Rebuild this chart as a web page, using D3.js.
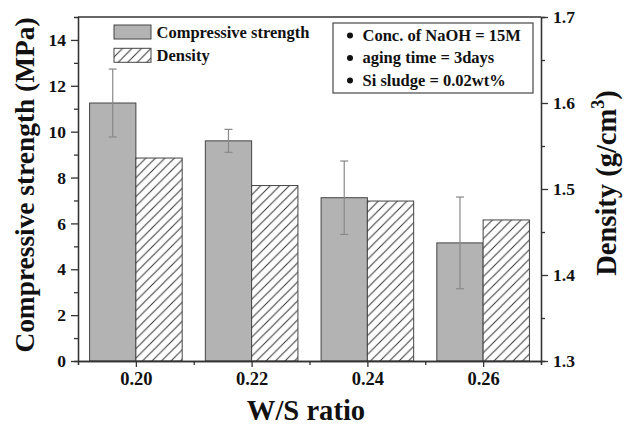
<!DOCTYPE html>
<html>
<head>
<meta charset="utf-8">
<script src="https://cdn.jsdelivr.net/npm/d3@7"></script>
</head>
<body style="margin:0;background:#fff">
<svg id="chart" width="631" height="425"></svg>
<script>
// W/S ratio vs compressive strength and density
const ratios = [0.20, 0.22, 0.24, 0.26];
const strength = [11.25, 9.6, 7.12, 5.15];
const strengthErr = [1.48, 0.5, 1.6, 2.0];
const density = [1.536, 1.504, 1.486, 1.464];
const xTicks = ["0.20", "0.22", "0.24", "0.26"];
const notes = ["Conc. of NaOH = 15M", "aging time = 3days", "Si sludge = 0.02wt%"];

const width = 631, height = 425;
const m = { left: 78, right: 90, top: 17, bottom: 64 };

const svg = d3.select("#chart");

// serif bold text helper
const setFont = (sel, size) => sel
  .attr("font-family", "Liberation Serif")
  .style("font-family", '"Liberation Serif"')
  .style("font-weight", "bold")
  .style("font-size", size + "px")
  .attr("fill", "#111");

const defs = svg.append("defs");
const pat = defs.append("pattern").attr("id", "hatch")
  .attr("patternUnits", "userSpaceOnUse")
  .attr("width", 9.5).attr("height", 9.5);
pat.append("rect").attr("width", 9.5).attr("height", 9.5).attr("fill", "#fff");
pat.append("path").attr("d", "M-1,1 l2,-2 M0,9.5 l9.5,-9.5 M8.5,10.5 l2,-2")
  .attr("stroke", "#333").attr("stroke-width", 1);

const x = d3.scaleLinear().domain([0.19, 0.27]).range([m.left, width - m.right]);
const y = d3.scaleLinear().domain([0, 15]).range([height - m.bottom, m.top]);
const y2 = d3.scaleLinear().domain([1.3, 1.7]).range([height - m.bottom, m.top]);
const bw = 0.008;
const axisCol = "#333";

// bars
const g = svg.append("g");
g.selectAll("rect.cs").data(ratios).join("rect").attr("class", "cs")
  .attr("x", d => x(d - bw)).attr("width", d => x(d) - x(d - bw))
  .attr("y", (d, i) => y(strength[i])).attr("height", (d, i) => y(0) - y(strength[i]))
  .attr("fill", "#b3b3b3").attr("stroke", "#444").attr("stroke-width", 1);

g.selectAll("rect.den").data(ratios).join("rect").attr("class", "den")
  .attr("x", d => x(d)).attr("width", d => x(d + bw) - x(d))
  .attr("y", (d, i) => y2(density[i])).attr("height", (d, i) => y2(1.3) - y2(density[i]))
  .attr("fill", "url(#hatch)").attr("stroke", "#444").attr("stroke-width", 1);

// error bars
const eb = g.selectAll("g.err").data(ratios).join("g").attr("class", "err")
  .attr("stroke", "#888").attr("stroke-width", 1.2);
eb.append("line")
  .attr("x1", d => x(d - bw / 2)).attr("x2", d => x(d - bw / 2))
  .attr("y1", (d, i) => y(strength[i] + strengthErr[i]))
  .attr("y2", (d, i) => y(strength[i] - strengthErr[i]));
[1, -1].forEach(s => {
  eb.append("line")
    .attr("x1", d => x(d - bw / 2) - 4).attr("x2", d => x(d - bw / 2) + 4)
    .attr("y1", (d, i) => y(strength[i] + s * strengthErr[i]))
    .attr("y2", (d, i) => y(strength[i] + s * strengthErr[i]));
});

// axes
function styleAxis(sel, size) {
  sel.attr("font-family", "Liberation Serif");
  sel.select(".domain").attr("stroke", axisCol).attr("stroke-width", 1.3);
  sel.selectAll(".tick line").attr("stroke", axisCol).attr("stroke-width", 1.3);
  setFont(sel.selectAll("text"), size || 17.5);
}

const xMinor = svg.append("g").attr("transform", `translate(0,${y(0)})`)
  .call(d3.axisBottom(x).tickValues([0.19, 0.21, 0.23, 0.25, 0.27]).tickSize(4).tickFormat(""));
styleAxis(xMinor);
const xAx = svg.append("g").attr("transform", `translate(0,${y(0)})`)
  .call(d3.axisBottom(x).tickValues(ratios).tickSize(6).tickSizeOuter(0)
    .tickFormat((d, i) => xTicks[i]).tickPadding(5));
styleAxis(xAx, 18.5);

const yMinor = svg.append("g").attr("transform", `translate(${m.left},0)`)
  .call(d3.axisLeft(y).tickValues(d3.range(1, 15, 2)).tickSize(4).tickFormat(""));
styleAxis(yMinor);
const yAx = svg.append("g").attr("transform", `translate(${m.left},0)`)
  .call(d3.axisLeft(y).tickValues(d3.range(0, 15, 2)).tickSize(7).tickSizeOuter(0).tickPadding(5));
styleAxis(yAx);

const y2Minor = svg.append("g").attr("transform", `translate(${width - m.right},0)`)
  .call(d3.axisRight(y2).tickValues([1.35, 1.45, 1.55, 1.65]).tickSize(4).tickFormat(""));
styleAxis(y2Minor);
const y2Ax = svg.append("g").attr("transform", `translate(${width - m.right},0)`)
  .call(d3.axisRight(y2).tickValues([1.3, 1.4, 1.5, 1.6, 1.7]).tickSize(7).tickSizeOuter(0)
    .tickFormat(d3.format(".1f")).tickPadding(5));
styleAxis(y2Ax);

// top frame
svg.append("line").attr("x1", m.left).attr("x2", width - m.right)
  .attr("y1", m.top).attr("y2", m.top).attr("stroke", axisCol).attr("stroke-width", 1.3);

// axis titles
setFont(svg.append("text"), 28.6).attr("x", 306).attr("y", 420)
  .attr("text-anchor", "middle").text("W/S ratio");
setFont(svg.append("text"), 27.4).attr("transform", "translate(34,185) rotate(-90)")
  .attr("text-anchor", "middle").text("Compressive strength (MPa)");
const dt = setFont(svg.append("text"), 28.5)
  .attr("transform", "translate(616,183) rotate(-90)")
  .attr("text-anchor", "middle");
dt.append("tspan").text("Density (g/cm");
dt.append("tspan").style("font-size", "18px").attr("dy", -12).text("3");
dt.append("tspan").attr("dy", 12).text(")");

// legend
const legItems = [
  { label: "Compressive strength", fill: "#b3b3b3", y: 25 },
  { label: "Density", fill: "url(#hatch)", y: 48.3 }
];
legItems.forEach(it => {
  svg.append("rect").attr("x", 114).attr("y", it.y).attr("width", 37).attr("height", 14)
    .attr("fill", it.fill).attr("stroke", "#444");
  setFont(svg.append("text"), 16.5).attr("x", 156.5).attr("y", it.y + 12.5).text(it.label);
});

// notes box
svg.append("rect").attr("x", 333).attr("y", 23).attr("width", 200).attr("height", 70)
  .attr("fill", "#fff").attr("stroke", "#555").attr("stroke-width", 1.3);
notes.forEach((t, i) => {
  const yy = 40.5 + i * 22.5;
  svg.append("circle").attr("cx", 350).attr("cy", yy - 5).attr("r", 3).attr("fill", "#111");
  setFont(svg.append("text"), 16.5).attr("x", 362.5).attr("y", yy).text(t);
});
</script>
</body>
</html>
